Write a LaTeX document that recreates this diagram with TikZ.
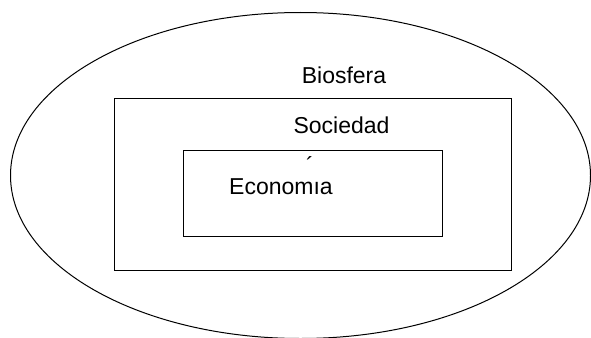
\documentclass[tikz,border=0pt]{standalone}
\usepackage{fontspec}
\setmainfont{Liberation Sans}
\begin{document}
\begin{tikzpicture}[x=1pt,y=-1pt,
  lbl/.style={inner sep=0pt,anchor=base,font=\fontsize{23}{26}\selectfont},
  box/.style={draw=black,line width=1.1pt,inner sep=0pt}]
\useasboundingbox (0,0) rectangle (591,337);
\begin{scope}
\clip (0,0) rectangle (591,337);
\draw[line width=1pt] (300.5,175.5) ellipse [x radius=290, y radius=163];
\end{scope}
\node[box,minimum width=397pt,minimum height=172pt] (soc) at (313,184.7) {};
\node[box,minimum width=259pt,minimum height=86.5pt] (eco) at (313.3,193.5) {};
\node[lbl] (bio) at (344,83) {Biosfera};
\node[lbl] (socl) at (341.5,133) {Sociedad};
\node[lbl] (ecol) at (281,194) {Econom{\i}a};
\node[lbl] (acc) at (310,173) {´};
\end{tikzpicture}
\end{document}
